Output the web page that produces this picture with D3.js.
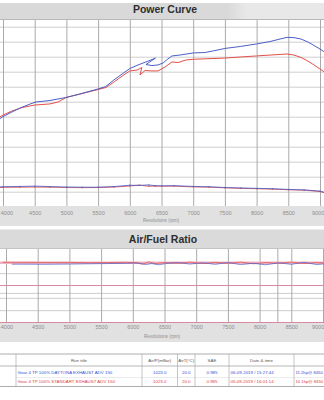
<!DOCTYPE html>
<meta charset="utf-8">
<style>
body { margin: 0; background: #fff; }
svg { display: block; font-family: "Liberation Sans", Arial, sans-serif; }
.title { font-weight: bold; font-size: 10.5px; fill: #2e2e2e; }
.tick text { font-size: 5.5px; fill: #8e8e8e; }
.axlabel { font-size: 4.6px; fill: #8e8e8e; }
.cell { font-size: 4.4px; }
</style>
<svg width="324" height="400"></svg>
<script src="https://d3js.org/d3.v7.min.js"></script>
<script>

// ---- data ----
var rpmTicks = [4000, 4500, 5000, 5500, 6000, 6500, 7000, 7500, 8000, 8500, 9000];

// power (hp), run 1 = Daytona exhaust (blue), run 2 = standard exhaust (red)
var bluePowerRpm = [3920, 4000, 4140, 4270, 4430, 4520, 4740, 4990, 5210, 5500, 5620, 5750, 5880, 6000, 6130, 6255, 6350, 6405, 6255, 6350, 6445, 6525, 6600, 6665, 6790, 7000, 7185, 7310, 7500, 7740, 8000, 8210, 8370, 8480, 8590, 8700, 8810, 8905, 9000, 9095];
var bluePower    = [5.78, 6.01, 6.31, 6.58, 6.85, 6.98, 7.08, 7.28, 7.51, 7.85, 8.01, 8.45, 8.85, 9.21, 9.45, 9.65, 9.81, 9.91, 9.48, 9.41, 9.45, 9.58, 9.85, 10.05, 10.11, 10.25, 10.28, 10.38, 10.55, 10.68, 10.85, 11.01, 11.18, 11.29, 11.27, 11.18, 10.98, 10.75, 10.51, 10.25];
var redPowerRpm  = [3920, 4000, 4140, 4300, 4505, 4740, 4870, 4995, 5215, 5500, 5625, 5750, 5880, 6000, 6115, 6190, 6160, 6240, 6350, 6445, 6555, 6665, 6760, 6885, 7000, 7265, 7500, 7740, 8000, 8210, 8480, 8590, 8700, 8810, 8905, 9000, 9095];
var redPower     = [5.91, 6.11, 6.38, 6.61, 6.78, 6.85, 6.98, 7.28, 7.51, 7.81, 7.95, 8.31, 8.71, 9.05, 9.11, 9.28, 8.78, 9.08, 9.05, 9.05, 9.31, 9.65, 9.61, 9.78, 9.83, 9.87, 9.91, 9.98, 10.05, 10.11, 10.18, 10.11, 9.95, 9.71, 9.45, 9.18, 8.91];

// torque trace (same scale)
var torqueRpm   = [3920, 4000, 4270, 4500, 4740, 5000, 5250, 5500, 5750, 6000, 6150, 6300, 6400, 6500, 6700, 7000, 7250, 7500, 7750, 8000, 8250, 8500, 8750, 9000, 9100];
var blueTorque  = [1.32, 1.33, 1.35, 1.37, 1.34, 1.31, 1.30, 1.30, 1.34, 1.43, 1.42, 1.45, 1.40, 1.39, 1.40, 1.35, 1.33, 1.28, 1.25, 1.22, 1.20, 1.15, 1.12, 1.04, 0.92];
var redTorque   = [1.27, 1.29, 1.30, 1.31, 1.30, 1.28, 1.27, 1.28, 1.31, 1.38, 1.44, 1.36, 1.37, 1.37, 1.37, 1.32, 1.30, 1.26, 1.22, 1.20, 1.17, 1.13, 1.10, 1.01, 0.90];

// air/fuel ratio
var blueAfrRpm = [4090, 4300, 4600, 5000, 5300, 5600, 5900, 6100, 6200, 6300, 6400, 6550, 6700, 6900, 7100, 7300, 7500, 7700, 7900, 8100, 8300, 8500, 8700, 8900, 9100];
var blueAfr    = [14.73, 14.73, 14.72, 14.74, 14.76, 14.78, 14.80, 14.82, 14.70, 14.78, 14.68, 14.80, 14.86, 14.74, 14.84, 14.72, 14.86, 14.70, 14.80, 14.68, 14.84, 14.72, 14.88, 14.70, 14.80];
var redAfrRpm  = [3950, 4300, 4600, 5000, 5300, 5600, 5900, 6050, 6150, 6250, 6350, 6500, 6700, 6900, 7100, 7300, 7500, 7700, 7900, 8100, 8300, 8500, 8700, 8900, 9100];
var redAfr     = [14.88, 14.88, 14.87, 14.87, 14.85, 14.86, 14.88, 14.85, 14.72, 14.92, 14.78, 14.86, 14.80, 14.90, 14.78, 14.88, 14.80, 14.90, 14.76, 14.86, 14.80, 14.90, 14.78, 14.86, 14.82];
var afrTarget = 14.85;
var afrLimits = [10, 13];
var afrGrid = [11, 12, 12.4, 14];
var cursorRpm = 8280;

// results table
var tableHeader = ["", "Run title", "Air/P(mBar)", "AirT(°C)", "SAE", "Date & time", ""];
var runTitles  = ["Gear 4 TP 100%  DAYTONA EXHAUST ADV 150", "Gear 4 TP 100%  STANDART EXHAUST ADV 150"];
var airPressure = ["1023.0", "1023.0"];
var airTemp    = ["20.0", "20.0"];
var saeFactor  = ["0.985", "0.985"];
var dateTimes  = ["06-09-2019 / 15:27:44", "05-09-2019 / 16:01:14"];
var peakPower  = ["11.2hp@ 8450", "10.1hp@ 8450"];

var BLUE = "#4c5ec6", RED = "#e2504a";

var svg = d3.select("svg"), W = 324;
var defs = svg.append("defs");

var grad = defs.append("linearGradient").attr("id", "band");
grad.append("stop").attr("offset", "0.70").attr("stop-color", "#d9d9d9");
grad.append("stop").attr("offset", "0.76").attr("stop-color", "#e8e8e8");

function zipped(a, b) { return d3.zip(a, b); }

// keep first / last rpm labels inside the picture
function pinEdgeLabels(g, x) {
  g.selectAll(".tick text").each(function(d) {
    if (d === rpmTicks[0]) d3.select(this).attr("text-anchor", "start").attr("x", 0.3 - x(d));
    if (d === rpmTicks[rpmTicks.length - 1]) d3.select(this).attr("text-anchor", "end").attr("x", W - 0.3 - x(d));
  });
}

// ========== Power Curve ==========
var P = {top: 19.5, bottom: 206};
svg.append("rect").attr("x", 0).attr("y", 3).attr("width", W).attr("height", 16.5).attr("fill", "url(#band)");
svg.append("rect").attr("x", 0).attr("y", P.bottom).attr("width", W).attr("height", 20).attr("fill", "#e1e1e1");
svg.append("text").attr("class", "title").attr("x", 165).attr("y", 13).attr("text-anchor", "middle").text("Power Curve");

var xP = d3.scaleLinear().domain([4000, 9000]).range([3, 320]);
var yP = d3.scaleLinear().domain([0, 1]).range([206.7, 191.7]);

defs.append("clipPath").attr("id", "clipP").append("rect")
  .attr("x", 0).attr("y", P.top).attr("width", W).attr("height", P.bottom - P.top);

svg.append("g")
  .call(d3.axisLeft(yP).tickValues(d3.range(1, 13)).tickSize(-W).tickFormat(""))
  .call(function(g) { g.select(".domain").remove(); g.selectAll("line").attr("stroke", "#cfcfcf"); });

var gxP = svg.append("g").attr("transform", "translate(0," + P.bottom + ")")
  .call(d3.axisBottom(xP).tickValues(rpmTicks).tickSize(-(P.bottom - P.top)).tickPadding(5).tickFormat(d3.format("d")));
gxP.select(".domain").remove();
gxP.selectAll(".tick line").attr("stroke", "#aaaaaa");
pinEdgeLabels(gxP, xP);

svg.append("line").attr("x1", 0).attr("x2", W).attr("y1", P.top).attr("y2", P.top).attr("stroke", "#b8b8b8");
svg.append("text").attr("class", "axlabel").attr("x", 161).attr("y", 222).attr("text-anchor", "middle").text("Revolutions (rpm)");

var lineP = d3.line().x(function(d) { return xP(d[0]); }).y(function(d) { return yP(d[1]); });
var gP = svg.append("g").attr("clip-path", "url(#clipP)");

[[torqueRpm, redTorque, RED], [torqueRpm, blueTorque, BLUE]].forEach(function(s) {
  var pts = zipped(s[0], s[1]);
  gP.append("path").datum(pts).attr("d", lineP).attr("fill", "none").attr("stroke", s[2]).attr("stroke-width", 1).attr("opacity", 0.85);
  gP.selectAll(null).data(pts).enter().append("circle")
    .attr("cx", function(d) { return xP(d[0]); }).attr("cy", function(d) { return yP(d[1]); })
    .attr("r", 0.7).attr("fill", s[2]).attr("opacity", 0.7);
});
[[redPowerRpm, redPower, RED], [bluePowerRpm, bluePower, BLUE]].forEach(function(s) {
  gP.append("path").datum(zipped(s[0], s[1])).attr("d", lineP)
    .attr("fill", "none").attr("stroke", s[2]).attr("stroke-width", 1);
});

// ========== Air/Fuel Ratio ==========
var A = {top: 248.5, bottom: 322.5};
svg.append("rect").attr("x", 0).attr("y", 229.5).attr("width", W).attr("height", A.top - 229.5).attr("fill", "#dadada");
svg.append("text").attr("class", "title").attr("x", 163).attr("y", 242.5).attr("text-anchor", "middle").text("Air/Fuel Ratio");
svg.append("rect").attr("x", 0).attr("y", A.bottom).attr("width", W).attr("height", 19.5).attr("fill", "#e1e1e1");

var xA = d3.scaleLinear().domain([4000, 9000]).range([6, 323]);
var yA = d3.scaleLinear().domain([10, 16]).range([A.bottom, A.top]);

defs.append("clipPath").attr("id", "clipA").append("rect")
  .attr("x", 0).attr("y", A.top).attr("width", W).attr("height", A.bottom - A.top);

svg.append("g")
  .call(d3.axisLeft(yA).tickValues(afrGrid).tickSize(-W).tickFormat(""))
  .call(function(g) { g.select(".domain").remove(); g.selectAll("line").attr("stroke", "#cdcdcd"); });

var gxA = svg.append("g").attr("transform", "translate(0," + A.bottom + ")")
  .call(d3.axisBottom(xA).tickValues(rpmTicks.concat([cursorRpm])).tickSize(-(A.bottom - A.top)).tickPadding(3)
    .tickFormat(function(d) { return d === cursorRpm ? "" : d; }));
gxA.select(".domain").remove();
gxA.selectAll(".tick line").attr("stroke", "#aaaaaa");
pinEdgeLabels(gxA, xA);

svg.append("line").attr("x1", 0).attr("x2", W).attr("y1", A.top).attr("y2", A.top).attr("stroke", "#c4c4c4");
svg.selectAll(null).data(afrLimits).enter().append("line")
  .attr("x1", 0).attr("x2", W).attr("y1", function(d) { return yA(d); }).attr("y2", function(d) { return yA(d); })
  .attr("stroke", "#d98aa0").attr("stroke-width", 1);
svg.append("text").attr("class", "axlabel").attr("x", 162).attr("y", 338).attr("text-anchor", "middle").text("Revolutions (rpm)");

var gA = svg.append("g").attr("clip-path", "url(#clipA)");
gA.append("line").attr("x1", 0).attr("x2", W).attr("y1", yA(afrTarget)).attr("y2", yA(afrTarget))
  .attr("stroke", "#f0b4c2").attr("stroke-width", 2.6);
var lineA = d3.line().x(function(d) { return xA(d[0]); }).y(function(d) { return yA(d[1]); });
[[redAfrRpm, redAfr, RED], [blueAfrRpm, blueAfr, BLUE]].forEach(function(s) {
  gA.append("path").datum(zipped(s[0], s[1])).attr("d", lineA)
    .attr("fill", "none").attr("stroke", s[2]).attr("stroke-width", 0.9).attr("opacity", 0.8);
});

// ========== results table ==========
var colEdges = [-10, 16, 142, 177.5, 195, 229, 294, 360];
var T = {top: 354, head: 366, mid: 377.5, bottom: 386.5};
var gT = svg.append("g");
[T.top, T.head, T.bottom].forEach(function(y, i) {
  gT.append("line").attr("x1", 0).attr("x2", W).attr("y1", y).attr("y2", y)
    .attr("stroke", i === 1 ? "#9a9a9a" : "#8a8a8a").attr("stroke-width", 0.7);
});
gT.append("line").attr("x1", 16).attr("x2", W).attr("y1", T.mid).attr("y2", T.mid).attr("stroke", "#d8d8d8").attr("stroke-width", 0.5);
gT.selectAll(null).data(colEdges.slice(1, -1)).enter().append("line")
  .attr("x1", function(d) { return d; }).attr("x2", function(d) { return d; })
  .attr("y1", T.top).attr("y2", T.bottom).attr("stroke", "#a0a0a0").attr("stroke-width", 0.6);

gT.selectAll(null).data(tableHeader).enter().append("text").attr("class", "cell")
  .attr("x", function(d, i) { return (colEdges[i] + colEdges[i + 1]) / 2; })
  .attr("y", 361.5).attr("text-anchor", "middle").attr("fill", "#555").text(function(d) { return d; });

var rows = d3.range(runTitles.length).map(function(i) {
  return [runTitles[i], airPressure[i], airTemp[i], saeFactor[i], dateTimes[i], peakPower[i]];
});
var rowY = [374, 382.5];
var anchors = ["start", "middle", "middle", "middle", "start", "start"];
rows.forEach(function(r, ri) {
  gT.selectAll(null).data(r).enter().append("text").attr("class", "cell")
    .attr("x", function(d, i) {
      var a = colEdges[i + 1], b = colEdges[i + 2];
      return anchors[i] === "middle" ? (a + b) / 2 : a + 1.5;
    })
    .attr("y", rowY[ri]).attr("text-anchor", function(d, i) { return anchors[i]; })
    .style("font-size", function(d, i) { return i === 5 ? "4.2px" : null; })
    .attr("fill", ri === 0 ? "#3a4fd0" : "#e0403c").text(function(d) { return d; });
});

</script>
